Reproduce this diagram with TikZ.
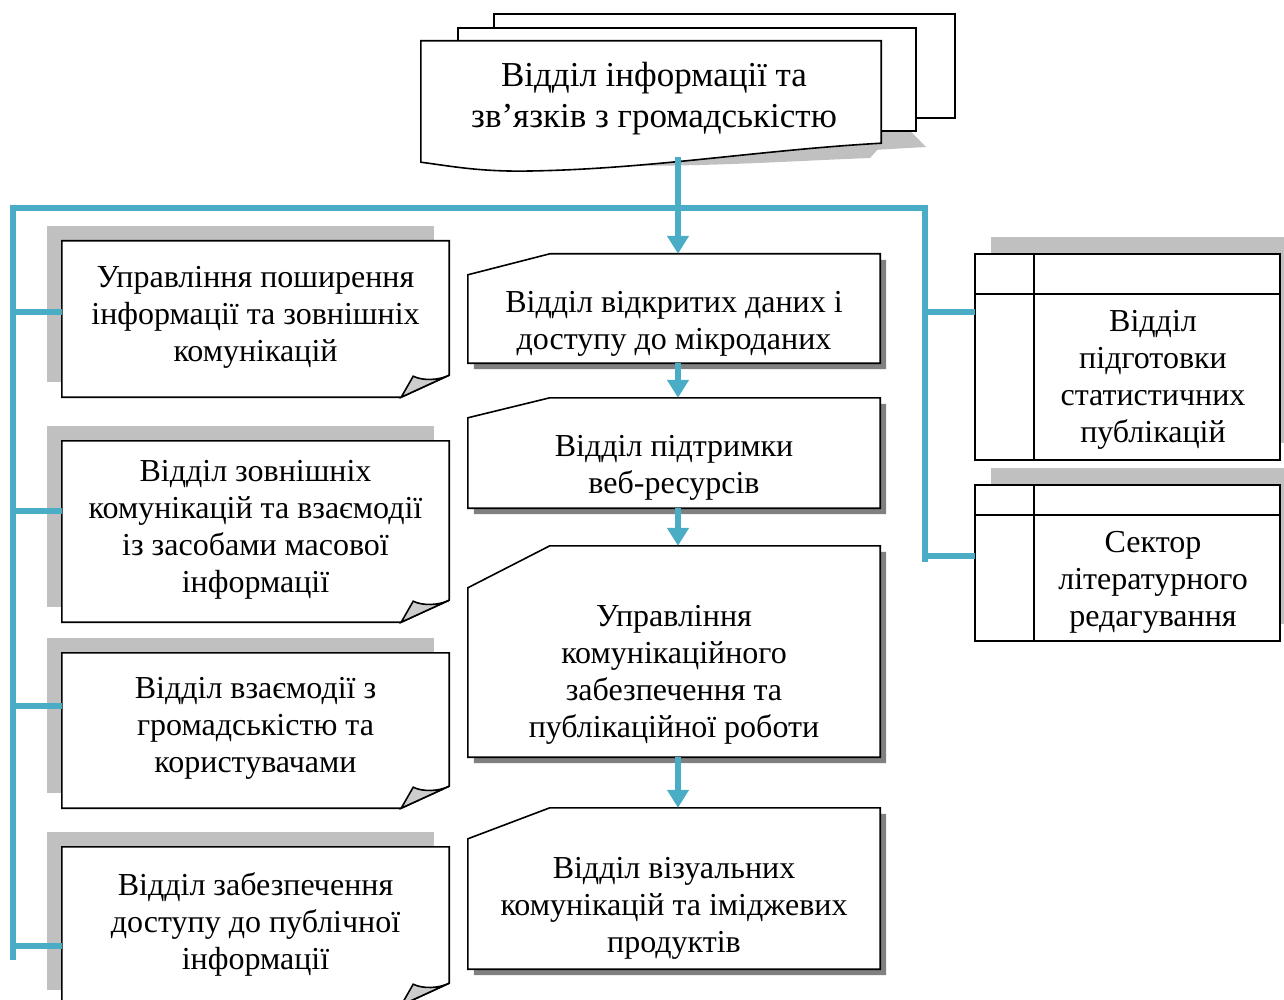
\documentclass[tikz,border=0pt]{standalone}
\usepackage{fontspec}
\setmainfont{Liberation Serif}
\usetikzlibrary{arrows.meta}
\definecolor{aqua}{RGB}{75,172,198}
\definecolor{lgray}{RGB}{192,192,192}
\definecolor{dgray}{RGB}{128,128,128}
\definecolor{fold}{RGB}{205,205,205}

\tikzset{
  box/.style={draw=black, line width=1.6pt, fill=white},
  frame/.style={inner sep=0pt, minimum width=#1},
  txt/.style={font=\fontsize{32}{37}\selectfont, align=center, inner sep=0pt},
  bus/.style={draw=aqua, line width=6pt},
  arr/.style={draw=aqua, line width=6pt, -{Triangle[length=18pt,width=21pt]}}
}

\begin{document}
\begin{tikzpicture}[x=1pt,y=-1pt]
\useasboundingbox (0,0) rectangle (1284,1000);

% the box frames
\node[frame=460pt, minimum height=121pt] (vi) at (651,101.5) {};
\node[frame=387pt, minimum height=156pt] (ls1) at (255.5,319) {};
\node[frame=387pt, minimum height=181pt] (ls2) at (255.5,531.5) {};
\node[frame=387pt, minimum height=155pt] (ls3) at (255.5,730.5) {};
\node[frame=387pt, minimum height=158pt] (ls4) at (255.5,926) {};
\node[frame=412pt, minimum height=109pt] (md1) at (674,308.5) {};
\node[frame=412pt, minimum height=110pt] (md2) at (674,453) {};
\node[frame=412pt, minimum height=211pt] (md3) at (674,651.5) {};
\node[frame=412pt, minimum height=161pt] (md4) at (674,888.5) {};
\node[frame=305pt, minimum height=206pt] (rt1) at (1127.5,357) {};
\node[frame=305pt, minimum height=156pt] (rt2) at (1127.5,563) {};

% top stack of sheets
\fill[lgray] (600,150) -- (881,128) -- (881,146) -- (870,158) .. controls (790,161) and (690,168) .. (600,165) -- cycle;
\fill[lgray] (881,131) -- (910,131) -- (926,147) -- (873,150) -- cycle;
\draw[box] (494,14) rectangle (955,118);
\draw[box] (458,28) rectangle (916,131);
\draw[box] (vi.north west) -- (vi.north east) -- ([yshift=19pt]vi.south east)
  .. controls (760,150) and (650,169) .. (530,171)
  .. controls (480,172) and (450,166) .. (vi.south west) -- cycle;

% left column: folded corner
\foreach \n in {ls1,ls2,ls3,ls4}{
  \fill[lgray] ([shift={(-15pt,15pt)}]\n.north west) rectangle ([shift={(-15pt,15pt)}]\n.south east);
  \draw[box] (\n.north west) -- (\n.north east) -- ([yshift=22pt]\n.south east)
    -- ([xshift=-48pt]\n.south east) -- (\n.south west) -- cycle;
  \draw[box, fill=fold] ([xshift=-48pt]\n.south east) -- ([shift={(-36pt,21pt)}]\n.south east)
    .. controls ([shift={(-26pt,16pt)}]\n.south east) and ([shift={(-10pt,17pt)}]\n.south east)
    .. ([yshift=22pt]\n.south east) -- cycle;
}

% middle column: cut corner
\foreach \n/\ct in {md1/21, md2/20, md3/42, md4/31}{
  \fill[dgray] ([shift={(88pt,-6pt)}]\n.north west) -- ([shift={(6pt,-6pt)}]\n.north east)
    -- ([shift={(6pt,-6pt)}]\n.south east) -- ([shift={(6pt,-6pt)}]\n.south west)
    -- ([shift={(6pt,-6pt)},yshift=-\ct pt]\n.north west) -- cycle;
  \draw[box] ([xshift=82pt]\n.north west) -- (\n.north east) -- (\n.south east)
    -- (\n.south west) -- ([yshift=-\ct pt]\n.north west) -- cycle;
}

% right column: ruled cards
\foreach \n/\r in {rt1/40, rt2/30}{
  \fill[lgray] ([shift={(16pt,17pt)}]\n.north west) rectangle ([shift={(16pt,17pt)}]\n.south east);
  \draw[box] (\n.north west) rectangle (\n.south east);
  \draw[box] ([yshift=-\r pt]\n.north west) -- ([yshift=-\r pt]\n.north east);
  \draw[box] ([xshift=59pt]\n.north west) -- ([xshift=59pt]\n.south west);
}

% texts
\node[txt, font=\fontsize{35}{41}\selectfont] (vit) at (654,99) {Відділ інформації та\\зв’язків з громадськістю};
\node[txt] (ls1t) at (255.5,317) {Управління поширення\\інформації та зовнішніх\\комунікацій};
\node[txt] (ls2t) at (255.5,529.5) {Відділ зовнішніх\\комунікацій та взаємодії\\із засобами масової\\інформації};
\node[txt] (ls3t) at (255.5,728.5) {Відділ взаємодії з\\громадськістю та\\користувачами};
\node[txt] (ls4t) at (255.5,924) {Відділ забезпечення\\доступу до публічної\\інформації};
\node[txt] (md1t) at (674,324) {Відділ відкритих даних і\\доступу до мікроданих};
\node[txt] (md2t) at (674,468) {Відділ підтримки\\веб-ресурсів};
\node[txt] (md3t) at (674,675) {Управління\\комунікаційного\\забезпечення та\\публікаційної роботи};
\node[txt] (md4t) at (674,908) {Відділ візуальних\\комунікацій та іміджевих\\продуктів};
\node[txt] (rt1t) at (1153,380) {Відділ\\підготовки\\статистичних\\публікацій};
\node[txt] (rt2t) at (1153,582) {Сектор\\літературного\\редагування};

% connectors
\coordinate (lb) at (13,208);
\coordinate (rb) at (925,208);
\coordinate (wv) at (678,157);
\draw[bus] (lb |- 0,960) -- (lb) -- (rb) -- (rb |- 0,562);
\draw[arr] (wv) -- (md1.north -| wv);
\draw[arr] (md1.south -| wv) -- (md2.north -| wv);
\draw[arr] (md2.south -| wv) -- (md3.north -| wv);
\draw[arr] (md3.south -| wv) -- (md4.north -| wv);
\foreach \n/\y in {ls1/312, ls2/511, ls3/706, ls4/946}
  \draw[bus] (lb |- 0,\y) -- (\n.west |- 0,\y);
\foreach \n/\y in {rt1/312, rt2/556}
  \draw[bus] (rb |- 0,\y) -- (\n.west |- 0,\y);
\end{tikzpicture}
\end{document}
